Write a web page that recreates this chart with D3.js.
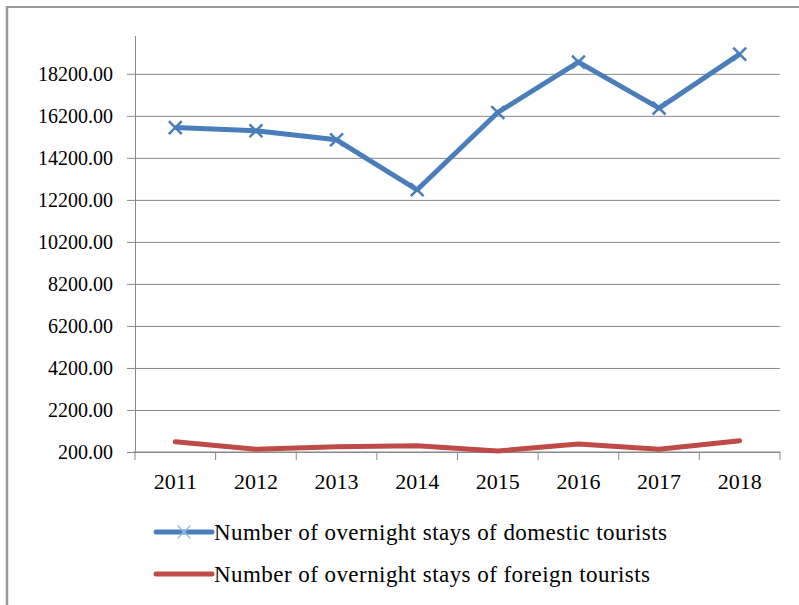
<!DOCTYPE html>
<html>
<head>
<meta charset="utf-8">
<style>
  html, body { margin: 0; padding: 0; background: #fff; }
  svg { display: block; }
</style>
</head>
<body>
<svg id="svg1" width="799" height="605"></svg>
<script src="https://d3js.org/d3.v7.min.js"></script>
<script>

var years = ["2011", "2012", "2013", "2014", "2015", "2016", "2017", "2018"];
var domestic = [15640, 15490, 15060, 12680, 16360, 18760, 16570, 19140];
var foreign = [690, 330, 450, 500, 250, 580, 330, 740];
var yTicks = [200, 2200, 4200, 6200, 8200, 10200, 12200, 14200, 16200, 18200];
var seriesNames = ["Number of overnight stays of domestic tourists",
                   "Number of overnight stays of foreign tourists"];

var svg = d3.select("#svg1"),
    width = +svg.attr("width"),
    height = +svg.attr("height");

var font = "'Liberation Serif', 'Times New Roman', serif",
    blue = "#4a7ebb",
    red = "#be4b48",
    gridColor = "#888";

var margin = {left: 135, right: 19, top: 36, bottom: 153};

var x = d3.scaleBand()
    .domain(years)
    .range([margin.left, width - margin.right]);

var y = d3.scaleLinear()
    .domain([200, 20000])
    .range([height - margin.bottom, margin.top]);

// frame (only left and top edges visible)
svg.append("line")
    .attr("x1", 7).attr("x2", 7).attr("y1", 6).attr("y2", height)
    .attr("stroke", "#999").attr("stroke-width", 2.5);
svg.append("line")
    .attr("x1", 6).attr("x2", width).attr("y1", 7).attr("y2", 7)
    .attr("stroke", "#999").attr("stroke-width", 2);

// y axis with gridlines
var yAxis = svg.append("g")
    .attr("transform", "translate(" + margin.left + ",0)")
    .call(d3.axisLeft(y)
      .tickValues(yTicks)
      .tickSize(-(width - margin.right - margin.left))
      .tickPadding(22)
      .tickFormat(d3.format(".2f")));
yAxis.select(".domain").remove();
yAxis.selectAll(".tick line")
    .attr("x1", -8)
    .attr("stroke", gridColor);
yAxis.selectAll("text")
    .style("font-family", font)
    .style("font-size", "20px")
    .attr("fill", "#000");

svg.append("line")
    .attr("x1", margin.left + 0.5).attr("x2", margin.left + 0.5)
    .attr("y1", margin.top).attr("y2", y(200))
    .attr("stroke", gridColor);

// x axis
var xTickPos = years.map(function(d) { return x(d); }).concat([x.range()[1]]);
var xAxis = svg.append("g")
    .attr("transform", "translate(0," + y(200) + ")");
xAxis.append("line")
    .attr("x1", margin.left - 2).attr("x2", x.range()[1])
    .attr("stroke", gridColor);
xAxis.selectAll("line.tk")
    .data(xTickPos)
  .enter().append("line")
    .attr("class", "tk")
    .attr("x1", function(d) { return d; })
    .attr("x2", function(d) { return d; })
    .attr("y1", 0).attr("y2", 8)
    .attr("stroke", gridColor);
xAxis.selectAll("text")
    .data(years)
  .enter().append("text")
    .attr("x", function(d) { return x(d) + x.bandwidth() / 2; })
    .attr("y", 37)
    .attr("text-anchor", "middle")
    .style("font-family", font)
    .style("font-size", "22px")
    .text(function(d) { return d; });

var line = d3.line()
    .x(function(d, i) { return x(years[i]) + x.bandwidth() / 2; })
    .y(function(d) { return y(d); });

svg.append("path")
    .datum(foreign)
    .attr("d", line)
    .attr("fill", "none")
    .attr("stroke", red)
    .attr("stroke-width", 5)
    .attr("stroke-linejoin", "round")
    .attr("stroke-linecap", "round");

svg.append("path")
    .datum(domestic)
    .attr("d", line)
    .attr("fill", "none")
    .attr("stroke", blue)
    .attr("stroke-width", 5)
    .attr("stroke-linejoin", "round");

var cross = d3.symbol().type(d3.symbolX).size(110);

svg.selectAll("path.mark")
    .data(domestic)
  .enter().append("path")
    .attr("class", "mark")
    .attr("d", cross)
    .attr("transform", function(d, i) {
      return "translate(" + (x(years[i]) + x.bandwidth() / 2) + "," + y(d) + ")";
    })
    .attr("fill", "none")
    .attr("stroke", blue)
    .attr("stroke-width", 2.5);

// legend
var legend = svg.append("g");
var legendY = [532, 574];
var legendColors = [blue, red];
var legendLen = [453, 436];

legend.selectAll("line")
    .data(seriesNames)
  .enter().append("line")
    .attr("x1", 156).attr("x2", 212)
    .attr("y1", function(d, i) { return legendY[i]; })
    .attr("y2", function(d, i) { return legendY[i]; })
    .attr("stroke", function(d, i) { return legendColors[i]; })
    .attr("stroke-width", 5)
    .attr("stroke-linecap", "round");

legend.append("path")
    .attr("d", cross)
    .attr("transform", "translate(184," + legendY[0] + ")")
    .attr("fill", "none")
    .attr("stroke", "#9cbde6")
    .attr("stroke-width", 1.5);

legend.selectAll("text")
    .data(seriesNames)
  .enter().append("text")
    .attr("x", 214)
    .attr("y", function(d, i) { return legendY[i] + 8; })
    .attr("textLength", function(d, i) { return legendLen[i]; })
    .attr("lengthAdjust", "spacing")
    .style("font-family", font)
    .style("font-size", "23px")
    .text(function(d) { return d; });

</script>
</body>
</html>
